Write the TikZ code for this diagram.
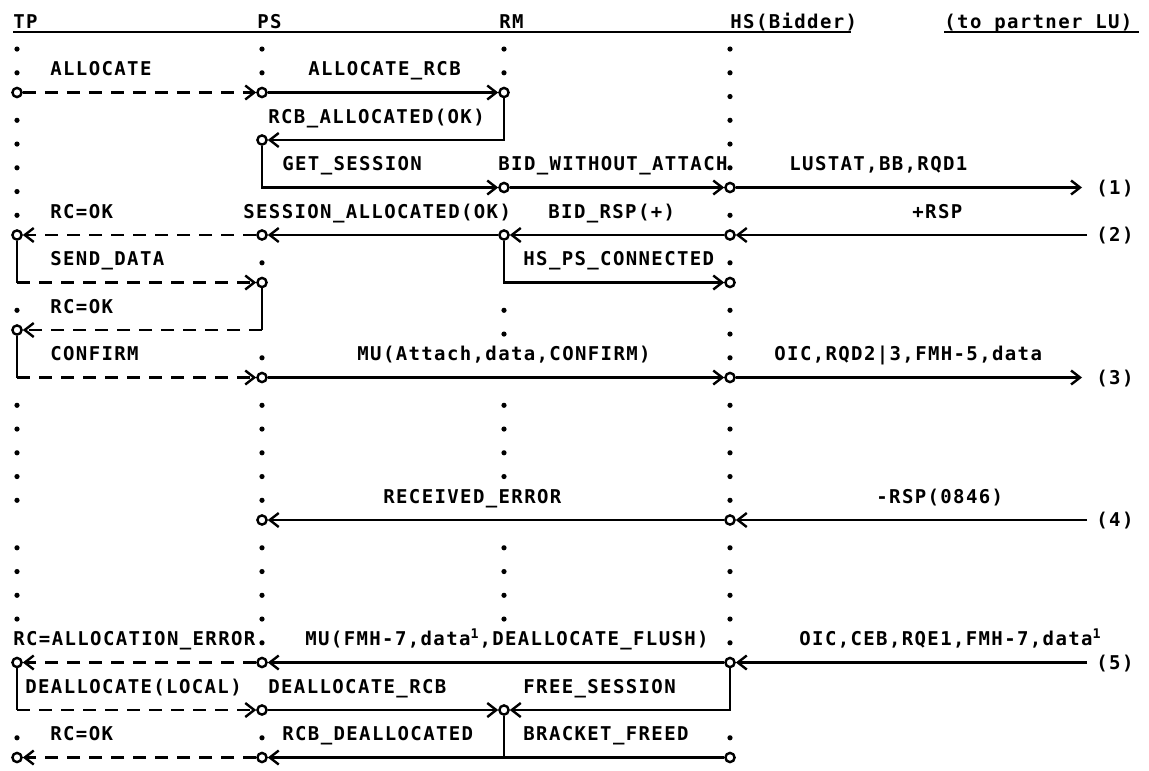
\documentclass[tikz,border=0pt]{standalone}
\usepackage{fontspec}
\newfontfamily\ibmfont{DejaVu Sans Mono}[LetterSpace=7.2]
\usepackage{tikz}
\usetikzlibrary{arrows.meta}

\begin{document}
\begin{tikzpicture}[x=0.5pt, y=-11.875pt, >={Straight Barb[length=4.5pt,width=7pt]},
            texto/.style={font=\ibmfont\bfseries\fontsize{9.5}{11}\selectfont, inner sep=0pt, text height=6.9pt, text depth=0pt, anchor=west},
            punto/.style={circle, draw, line width=1.2pt, inner sep=0pt, minimum size=4.6pt},
            linea/.style={line width=1.2pt},
            flecha/.style={->, line width=1.2pt},
            trazos/.style={->, line width=1.2pt, dash pattern=on 6.5pt off 4.5pt}
        ]
            \useasboundingbox (0,-0.8947) rectangle (1149,31.526);

            % Cabecera
            \node[texto] (h_tp) at (13,0) {TP};
            \node[texto] (h_ps) at (257,0) {PS};
            \node[texto] (h_rm) at (499,0) {RM};
            \node[texto] (h_hs) at (730,0) {HS(Bidder)};
            \node[texto] (h_lu) at (944,0) {(to partner LU)};
            \draw[linea] (13,0.45) -- (851,0.45);
            \draw[linea] (944,0.45) -- (1139,0.45);

            % Lineas de vida (puntos)
            \foreach \r in {1,2,4,5,6,7,8,12,16,17,18,19,20,22,23,24,25,30}
                \fill (17,\r+0.17) circle (1.3pt);
            \foreach \r in {1,2,10,14,16,17,18,19,20,22,23,24,25,26,30}
                \fill (262,\r+0.17) circle (1.3pt);
            \foreach \r in {1,2,12,13,16,17,18,19,22,23,24,25}
                \fill (504,\r+0.17) circle (1.3pt);
            \foreach \r in {1,2,3,4,5,6,8,10,12,13,14,16,17,18,19,20,22,23,24,25,26,30}
                \fill (730,\r+0.17) circle (1.3pt);

            % Extremos
            \node[punto] (tp3) at (17,3) {};
            \node[punto] (ps3) at (262,3) {};
            \node[punto] (rm3) at (504,3) {};
            \node[punto] (ps5) at (262,5) {};
            \node[punto] (rm7) at (504,7) {};
            \node[punto] (hs7) at (730,7) {};
            \node[punto] (tp9) at (17,9) {};
            \node[punto] (ps9) at (262,9) {};
            \node[punto] (rm9) at (504,9) {};
            \node[punto] (hs9) at (730,9) {};
            \node[punto] (ps11) at (262,11) {};
            \node[punto] (hs11) at (730,11) {};
            \node[punto] (tp13) at (17,13) {};
            \node[punto] (ps15) at (262,15) {};
            \node[punto] (hs15) at (730,15) {};
            \node[punto] (ps21) at (262,21) {};
            \node[punto] (hs21) at (730,21) {};
            \node[punto] (tp27) at (17,27) {};
            \node[punto] (ps27) at (262,27) {};
            \node[punto] (hs27) at (730,27) {};
            \node[punto] (ps29) at (262,29) {};
            \node[punto] (rm29) at (504,29) {};
            \node[punto] (tp31) at (17,31) {};
            \node[punto] (ps31) at (262,31) {};
            \node[punto] (hs31) at (730,31) {};

            % Esquinas y extremo derecho
            \coordinate (tp11) at (17,11);
            \coordinate (ps13) at (262,13);
            \coordinate (tp15) at (17,15);
            \coordinate (tp29) at (17,29);
            \coordinate (rm31) at (504,31);
            \coordinate (lu7) at (1082,7);
            \coordinate (lu9) at (1087,9);
            \coordinate (lu15) at (1082,15);
            \coordinate (lu21) at (1087,21);
            \coordinate (lu27) at (1087,27);

            % Etiquetas
            \node[texto] (allocate) at (50,2) {ALLOCATE};
            \node[texto] (alloc_rcb) at (308,2) {ALLOCATE\_RCB};
            \node[texto] (rcb_alloc) at (268,4) {RCB\_ALLOCATED(OK)};
            \node[texto] (get_sess) at (282,6) {GET\_SESSION};
            \node[texto] (bid) at (498,6) {BID\_WITHOUT\_ATTACH};
            \node[texto] (lustat) at (789,6) {LUSTAT,BB,RQD1};
            \node[texto] (rc_ok1) at (50,8) {RC=OK};
            \node[texto] (sess_alloc) at (243,8) {SESSION\_ALLOCATED(OK)};
            \node[texto] (bid_rsp) at (548,8) {BID\_RSP(+)};
            \node[texto] (rsp_pos) at (912,8) {+RSP};
            \node[texto] (send_data) at (50,10) {SEND\_DATA};
            \node[texto] (hs_ps) at (523,10) {HS\_PS\_CONNECTED};
            \node[texto] (rc_ok2) at (50,12) {RC=OK};
            \node[texto] (confirm) at (50,14) {CONFIRM};
            \node[texto] (mu_attach) at (357,14) {MU(Attach,data,CONFIRM)};
            \node[texto] (oic_rqd) at (774,14) {OIC,RQD2|3,FMH-5,data};
            \node[texto] (rec_err) at (383,20) {RECEIVED\_ERROR};
            \node[texto] (rsp_neg) at (876,20) {-RSP(0846)};
            \node[texto] (rc_err) at (13,26) {RC=ALLOCATION\_ERROR};
            \node[texto] (mu_fmh) at (305,26) {MU(FMH-7,data\textsuperscript{1},DEALLOCATE\_FLUSH)};
            \node[texto] (oic_ceb) at (799,26) {OIC,CEB,RQE1,FMH-7,data\textsuperscript{1}};
            \node[texto] (dealloc) at (25,28) {DEALLOCATE(LOCAL)};
            \node[texto] (dealloc_rcb) at (268,28) {DEALLOCATE\_RCB};
            \node[texto] (free_sess) at (523,28) {FREE\_SESSION};
            \node[texto] (rc_ok3) at (50,30) {RC=OK};
            \node[texto] (rcb_dealloc) at (282,30) {RCB\_DEALLOCATED};
            \node[texto] (bracket) at (523,30) {BRACKET\_FREED};

            % Numeros
            \node[texto] (n1) at (1096,7) {(1)};
            \node[texto] (n2) at (1096,9) {(2)};
            \node[texto] (n3) at (1096,15) {(3)};
            \node[texto] (n4) at (1096,21) {(4)};
            \node[texto] (n5) at (1096,27) {(5)};

            % Asignacion
            \draw[trazos] (tp3) -- (ps3);
            \draw[flecha] (ps3) -- (rm3);
            \draw[flecha] (rm3) |- (ps5);
            \draw[flecha] (ps5) |- (rm7);
            \draw[flecha] (rm7) -- (hs7);
            \draw[flecha] (hs7) -- (lu7);

            % Respuestas
            \draw[flecha] (lu9) -- (hs9);
            \draw[flecha] (hs9) -- (rm9);
            \draw[flecha] (rm9) -- (ps9);
            \draw[trazos] (ps9) -- (tp9);
            \draw[linea] (tp9) -- (tp11);
            \draw[trazos] (tp11) -- (ps11);
            \draw[flecha] (rm9) |- (hs11);
            \draw[linea] (ps11) -- (ps13);
            \draw[trazos] (ps13) -- (tp13);

            % Confirmacion
            \draw[linea] (tp13) -- (tp15);
            \draw[trazos] (tp15) -- (ps15);
            \draw[flecha] (ps15) -- (hs15);
            \draw[flecha] (hs15) -- (lu15);

            % Error
            \draw[flecha] (lu21) -- (hs21);
            \draw[flecha] (hs21) -- (ps21);
            \draw[flecha] (lu27) -- (hs27);
            \draw[flecha] (hs27) -- (ps27);
            \draw[trazos] (ps27) -- (tp27);

            % Liberacion
            \draw[linea] (tp27) -- (tp29);
            \draw[trazos] (tp29) -- (ps29);
            \draw[flecha] (ps29) -- (rm29);
            \draw[flecha] (hs27) |- (rm29);
            \draw[linea] (rm29) -- (rm31);
            \draw[flecha] (rm31) -- (ps31);
            \draw[linea] (rm31) -- (hs31);
            \draw[trazos] (ps31) -- (tp31);

        \end{tikzpicture}
\end{document}
